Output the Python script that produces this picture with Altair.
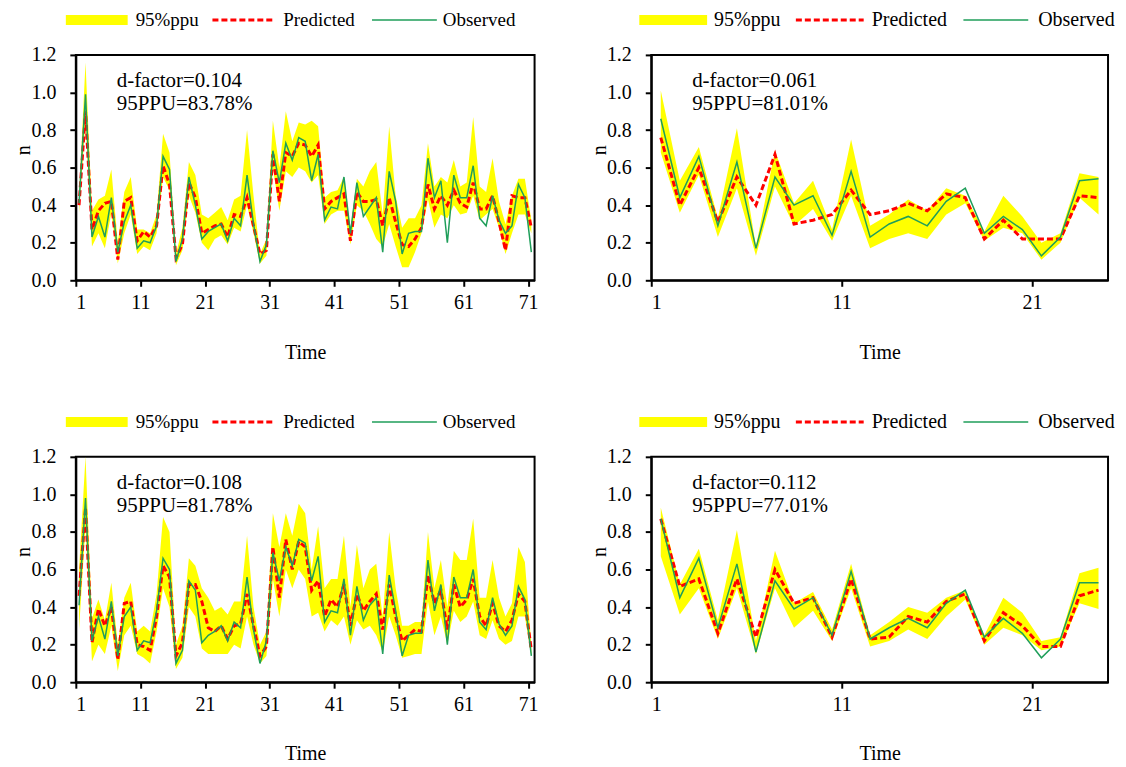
import altair as alt
import pandas as pd

FONT = "Liberation Serif"
YELLOW = "#ffff00"
RED = "#ff0000"
GREEN = "#1f9e5a"

# ---------------- data: 71-step panels (left) ----------------
obs_tl = [0.41, 0.99, 0.23, 0.34, 0.23, 0.44, 0.15, 0.31, 0.40, 0.17,
          0.21, 0.20, 0.29, 0.66, 0.59, 0.10, 0.22, 0.55, 0.40, 0.22,
          0.26, 0.28, 0.30, 0.21, 0.33, 0.29, 0.56, 0.30, 0.10, 0.19,
          0.69, 0.52, 0.73, 0.64, 0.76, 0.74, 0.53, 0.67, 0.32, 0.39,
          0.38, 0.55, 0.25, 0.52, 0.34, 0.39, 0.44, 0.15, 0.58, 0.42,
          0.14, 0.25, 0.26, 0.26, 0.65, 0.44, 0.53, 0.20, 0.56, 0.44,
          0.44, 0.61, 0.33, 0.29, 0.45, 0.32, 0.25, 0.29, 0.51, 0.44,
          0.15]
pred_tl = [0.40, 0.90, 0.27, 0.37, 0.41, 0.42, 0.11, 0.42, 0.44, 0.21,
           0.26, 0.23, 0.29, 0.61, 0.51, 0.12, 0.19, 0.52, 0.44, 0.25,
           0.27, 0.29, 0.30, 0.23, 0.35, 0.34, 0.44, 0.29, 0.14, 0.16,
           0.67, 0.42, 0.68, 0.66, 0.73, 0.72, 0.66, 0.72, 0.38, 0.42,
           0.44, 0.46, 0.21, 0.47, 0.42, 0.42, 0.43, 0.29, 0.44, 0.31,
           0.19, 0.18, 0.22, 0.28, 0.51, 0.38, 0.45, 0.40, 0.48, 0.41,
           0.39, 0.52, 0.38, 0.38, 0.45, 0.31, 0.16, 0.45, 0.44, 0.44,
           0.28]
hi_tl = [0.45, 1.16, 0.37, 0.43, 0.45, 0.59, 0.20, 0.47, 0.55, 0.27,
         0.27, 0.25, 0.35, 0.78, 0.68, 0.14, 0.28, 0.63, 0.56, 0.35,
         0.33, 0.36, 0.39, 0.32, 0.43, 0.45, 0.80, 0.45, 0.14, 0.22,
         0.85, 0.60, 0.90, 0.74, 0.84, 0.83, 0.85, 0.82, 0.44, 0.47,
         0.48, 0.55, 0.27, 0.54, 0.50, 0.58, 0.63, 0.35, 0.82, 0.45,
         0.28, 0.33, 0.33, 0.40, 0.73, 0.50, 0.55, 0.52, 0.64, 0.50,
         0.52, 0.87, 0.50, 0.47, 0.65, 0.42, 0.30, 0.45, 0.54, 0.54,
         0.32]
lo_tl = [0.36, 0.85, 0.18, 0.25, 0.17, 0.36, 0.09, 0.25, 0.35, 0.14,
         0.18, 0.16, 0.25, 0.55, 0.48, 0.08, 0.16, 0.45, 0.36, 0.20,
         0.16, 0.22, 0.24, 0.19, 0.28, 0.26, 0.40, 0.25, 0.09, 0.13,
         0.60, 0.37, 0.58, 0.55, 0.60, 0.58, 0.52, 0.56, 0.30, 0.35,
         0.37, 0.37, 0.19, 0.40, 0.37, 0.30, 0.22, 0.18, 0.30, 0.18,
         0.07, 0.07, 0.15, 0.25, 0.43, 0.28, 0.35, 0.33, 0.40, 0.35,
         0.36, 0.45, 0.32, 0.35, 0.38, 0.28, 0.14, 0.25, 0.35, 0.35,
         0.25]

obs_bl = [0.41, 0.98, 0.22, 0.35, 0.23, 0.43, 0.14, 0.35, 0.40, 0.17,
          0.22, 0.21, 0.38, 0.66, 0.60, 0.10, 0.17, 0.54, 0.49, 0.21,
          0.25, 0.27, 0.30, 0.22, 0.32, 0.29, 0.56, 0.28, 0.10, 0.22,
          0.69, 0.54, 0.72, 0.62, 0.76, 0.74, 0.54, 0.67, 0.32, 0.38,
          0.37, 0.55, 0.25, 0.51, 0.33, 0.41, 0.45, 0.15, 0.57, 0.38,
          0.14, 0.25, 0.26, 0.26, 0.65, 0.38, 0.52, 0.20, 0.56, 0.45,
          0.45, 0.60, 0.32, 0.28, 0.45, 0.31, 0.25, 0.30, 0.51, 0.44,
          0.14]
pred_bl = [0.46, 0.93, 0.21, 0.39, 0.30, 0.40, 0.12, 0.42, 0.43, 0.20,
           0.19, 0.17, 0.35, 0.62, 0.56, 0.14, 0.21, 0.52, 0.52, 0.43,
           0.29, 0.27, 0.30, 0.23, 0.30, 0.31, 0.47, 0.30, 0.14, 0.19,
           0.72, 0.45, 0.76, 0.60, 0.75, 0.72, 0.49, 0.54, 0.35, 0.44,
           0.40, 0.52, 0.30, 0.47, 0.38, 0.43, 0.47, 0.28, 0.52, 0.35,
           0.22, 0.25, 0.28, 0.27, 0.57, 0.42, 0.49, 0.28, 0.52, 0.40,
           0.44, 0.55, 0.35, 0.30, 0.42, 0.30, 0.27, 0.33, 0.47, 0.43,
           0.17]
hi_bl = [0.60, 1.20, 0.34, 0.44, 0.33, 0.53, 0.20, 0.45, 0.53, 0.27,
         0.30, 0.27, 0.47, 0.88, 0.80, 0.20, 0.30, 0.66, 0.62, 0.50,
         0.45, 0.38, 0.40, 0.36, 0.43, 0.43, 0.78, 0.40, 0.20, 0.27,
         0.90, 0.72, 0.90, 0.78, 0.95, 0.90, 0.60, 0.83, 0.50, 0.55,
         0.55, 0.78, 0.40, 0.73, 0.50, 0.60, 0.63, 0.35, 0.80, 0.50,
         0.30, 0.30, 0.32, 0.32, 0.80, 0.50, 0.65, 0.40, 0.70, 0.65,
         0.65, 0.87, 0.45, 0.45, 0.65, 0.45, 0.35, 0.42, 0.72, 0.64,
         0.20]
lo_bl = [0.28, 0.83, 0.11, 0.20, 0.15, 0.30, 0.06, 0.25, 0.30, 0.15,
         0.13, 0.10, 0.27, 0.50, 0.40, 0.07, 0.13, 0.40, 0.35, 0.18,
         0.15, 0.15, 0.15, 0.15, 0.20, 0.18, 0.35, 0.20, 0.10, 0.14,
         0.55, 0.35, 0.60, 0.50, 0.60, 0.55, 0.35, 0.37, 0.27, 0.33,
         0.30, 0.35, 0.20, 0.33, 0.28, 0.30, 0.25, 0.16, 0.35, 0.25,
         0.13, 0.14, 0.15, 0.15, 0.43, 0.25, 0.35, 0.20, 0.38, 0.32,
         0.35, 0.43, 0.25, 0.23, 0.33, 0.23, 0.20, 0.22, 0.35, 0.35,
         0.14]

# ---------------- data: 24-step panels (right) ----------------
obs_tr = [0.86, 0.44, 0.66, 0.29, 0.63, 0.17, 0.55, 0.40, 0.45, 0.24, 0.58, 0.23,
          0.30, 0.34, 0.29, 0.42, 0.49, 0.25, 0.34, 0.27, 0.13, 0.23, 0.53, 0.54]
pred_tr = [0.76, 0.40, 0.60, 0.31, 0.55, 0.40, 0.67, 0.30, 0.32, 0.35, 0.48, 0.35,
           0.37, 0.41, 0.37, 0.46, 0.44, 0.22, 0.32, 0.22, 0.22, 0.22, 0.45, 0.44]
hi_tr = [1.01, 0.53, 0.71, 0.33, 0.81, 0.18, 0.69, 0.41, 0.53, 0.27, 0.75, 0.29,
         0.35, 0.43, 0.37, 0.49, 0.45, 0.26, 0.45, 0.34, 0.20, 0.25, 0.57, 0.55]
lo_tr = [0.68, 0.36, 0.56, 0.23, 0.49, 0.13, 0.50, 0.29, 0.38, 0.21, 0.45, 0.17,
         0.22, 0.25, 0.22, 0.35, 0.41, 0.21, 0.28, 0.25, 0.11, 0.20, 0.44, 0.35]

obs_br = [0.87, 0.45, 0.66, 0.29, 0.63, 0.16, 0.54, 0.39, 0.45, 0.25, 0.59, 0.23,
          0.29, 0.34, 0.29, 0.42, 0.49, 0.24, 0.34, 0.26, 0.13, 0.23, 0.53, 0.53]
pred_br = [0.87, 0.51, 0.55, 0.26, 0.55, 0.24, 0.60, 0.42, 0.45, 0.24, 0.55, 0.23,
           0.24, 0.35, 0.32, 0.43, 0.47, 0.22, 0.37, 0.30, 0.19, 0.19, 0.46, 0.49]
hi_br = [0.93, 0.52, 0.71, 0.33, 0.81, 0.22, 0.70, 0.42, 0.48, 0.28, 0.63, 0.25,
         0.32, 0.40, 0.37, 0.45, 0.49, 0.25, 0.45, 0.37, 0.22, 0.24, 0.58, 0.61]
lo_br = [0.67, 0.36, 0.50, 0.23, 0.50, 0.15, 0.50, 0.29, 0.38, 0.22, 0.50, 0.19,
         0.22, 0.28, 0.23, 0.35, 0.44, 0.20, 0.29, 0.25, 0.17, 0.19, 0.42, 0.39]

ticks_long = [1, 11, 21, 31, 41, 51, 61, 71]
ticks_short = [1, 11, 21]
y_ticks = [0.0, 0.2, 0.4, 0.6, 0.8, 1.0, 1.2]
legend_labels = ["95%ppu", "Predicted", "Observed"]

W_LEFT, W_RIGHT, H = 460, 458, 226
LEG_Y = -35
# legend element offsets (px from plot left) for left / right column
LEG_LEFT = dict(band=(-10, 52), pred=(137, 200), obs=(297, 362),
                text=(60, 208, 368), size=19)
LEG_RIGHT = dict(band=(-12, 56), pred=(145, 213), obs=(313, 378),
                 text=(63, 221, 388), size=20)


def panel(obs, pred, lo, hi, xmax, ticks, width, dfac, ppu, lg):
    n = len(obs)
    df = pd.DataFrame({
        "t": [i + 0.5 for i in range(1, n + 1)],
        "obs": obs, "pred": pred, "lo": lo, "hi": hi,
    })
    xs = alt.Scale(domain=[1, xmax], nice=False, zero=False)
    ys = alt.Scale(domain=[0, 1.2], nice=False, zero=False)
    xax = alt.Axis(values=ticks, title="Time", format="d", grid=False,
                   labelOverlap=False, labelFont=FONT, labelFontSize=20,
                   titleFont=FONT, titleFontSize=20,
                   titleX=width / 2, titleY=72, titleBaseline="middle",
                   labelPadding=6)
    yax = alt.Axis(values=y_ticks, title="n", format=".1f",
                   grid=False, labelOverlap=False,
                   labelFont=FONT, labelFontSize=20,
                   titleFont=FONT, titleFontSize=20,
                   titleX=-52, titleY=95, titleAngle=270,
                   titleAlign="center", titleBaseline="middle",
                   labelPadding=14)
    base = alt.Chart(df)
    band = base.mark_area(color=YELLOW, opacity=1).encode(
        x=alt.X("t:Q", scale=xs, axis=xax),
        y=alt.Y("lo:Q", scale=ys, axis=yax), y2="hi:Q")
    pl = base.mark_line(color=RED, strokeWidth=3, strokeDash=[6, 3]).encode(
        x=alt.X("t:Q", scale=xs, axis=xax),
        y=alt.Y("pred:Q", scale=ys, axis=yax))
    ol = base.mark_line(color=GREEN, strokeWidth=1.5).encode(
        x=alt.X("t:Q", scale=xs, axis=xax),
        y=alt.Y("obs:Q", scale=ys, axis=yax))

    leg = alt.Chart(pd.DataFrame({"k": [0]}))
    lb = leg.mark_rule(color=YELLOW, strokeWidth=10).encode(
        x=alt.value(lg["band"][0]), x2=alt.value(lg["band"][1]), y=alt.value(LEG_Y))
    lp = leg.mark_rule(color=RED, strokeWidth=3, strokeDash=[6, 3]).encode(
        x=alt.value(lg["pred"][0]), x2=alt.value(lg["pred"][1]), y=alt.value(LEG_Y))
    lo_ = leg.mark_rule(color=GREEN, strokeWidth=1.5).encode(
        x=alt.value(lg["obs"][0]), x2=alt.value(lg["obs"][1]), y=alt.value(LEG_Y))
    texts = []
    for lab, xpos in zip(legend_labels, lg["text"]):
        texts.append(leg.mark_text(text=lab, align="left", baseline="middle",
                                   font=FONT, fontSize=lg["size"], color="black").encode(
            x=alt.value(xpos), y=alt.value(LEG_Y)))
    a1 = leg.mark_text(text=dfac, align="left", baseline="alphabetic",
                       font=FONT, fontSize=21, color="black").encode(
        x=alt.value(41), y=alt.value(32))
    a2 = leg.mark_text(text=ppu, align="left", baseline="alphabetic",
                       font=FONT, fontSize=21, color="black").encode(
        x=alt.value(41), y=alt.value(55))
    return alt.layer(band, pl, ol, lb, lp, lo_, *texts, a1, a2).properties(
        width=width, height=H)


tl = panel(obs_tl, pred_tl, lo_tl, hi_tl, 72, ticks_long, W_LEFT,
           "d-factor=0.104", "95PPU=83.78%", LEG_LEFT)
tr = panel(obs_tr, pred_tr, lo_tr, hi_tr, 25, ticks_short, W_RIGHT,
           "d-factor=0.061", "95PPU=81.01%", LEG_RIGHT)
bl = panel(obs_bl, pred_bl, lo_bl, hi_bl, 72, ticks_long, W_LEFT,
           "d-factor=0.108", "95PPU=81.78%", LEG_LEFT)
br = panel(obs_br, pred_br, lo_br, hi_br, 25, ticks_short, W_RIGHT,
           "d-factor=0.112", "95PPU=77.01%", LEG_RIGHT)

chart = alt.concat(tl, tr, bl, br, columns=2,
                   spacing={"row": 177, "column": 117},
                   bounds="flush").properties(
    padding={"left": 5, "top": 0, "right": 2, "bottom": 2}
).configure(
    font=FONT, background="white"
).configure_view(
    stroke="black", strokeWidth=2
).configure_axis(
    labelFont=FONT, titleFont=FONT, labelFontSize=20, titleFontSize=20,
    labelColor="black", titleColor="black", titleFontWeight="normal",
    domainColor="black", domainWidth=2, tickColor="black", tickWidth=2,
    tickSize=6, grid=False, labelOverlap=False
)

chart.save("out.html", embed_options={"renderer": "svg", "actions": False})
